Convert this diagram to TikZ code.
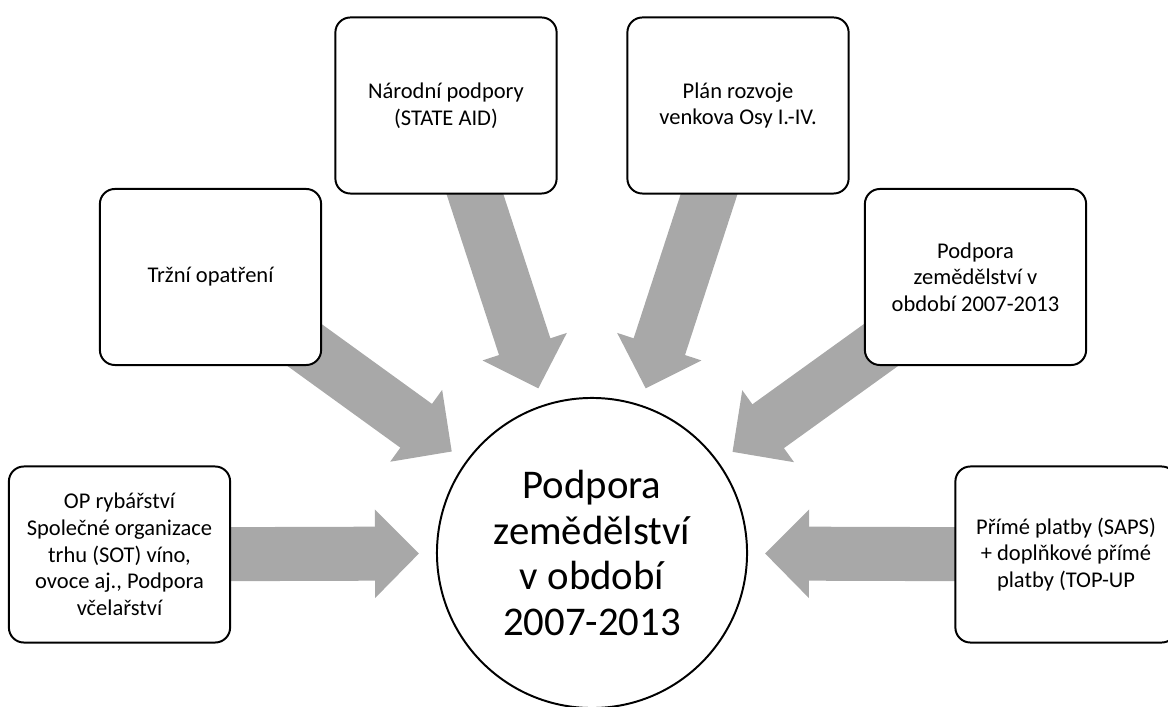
\documentclass[tikz,border=0pt]{standalone}
\usepackage{fontspec}
\setmainfont{Carlito}
\usepackage{tikz}
\usetikzlibrary{arrows.meta,backgrounds}
\definecolor{arrowgray}{RGB}{168,168,168}

\begin{document}
\begin{tikzpicture}[x=0.025cm, y=-0.025cm,
			box/.style={shape=rectangle,draw,fill=white,line width=1.4pt,rounded corners=0.375cm,minimum width=5.53cm,minimum height=4.4cm,align=center,font=\fontsize{16}{19}\selectfont},
			core/.style={shape=circle,draw,fill=white,line width=1.4pt,minimum size=7.75cm,inner sep=0,align=center,font=\fontsize{29}{32.5}\selectfont},
			feed/.style={color=arrowgray,line width=1.35cm,-{Triangle[width=2.15cm,length=1.1cm]},shorten >=0.425cm}]
			\useasboundingbox (0,0) rectangle (1168,707);
			\node[core] (c) at (592,553) {Podpora\\zemědělství\\v období\\2007-2013};
			\node[box] (op) at (119.5,554.5) {OP rybářství\\Společné organizace\\trhu (SOT) víno,\\ovoce aj., Podpora\\včelařství};
			\node[box] (trh) at (210.5,277) {Tržní opatření};
			\node[box] (nar) at (446,105.5) {Národní podpory\\(STATE AID)};
			\node[box] (prv) at (738,105.5) {Plán rozvoje\\venkova Osy I.-IV.};
			\node[box] (pod) at (975.5,277) {Podpora\\zemědělství v\\období 2007-2013};
			\node[box] (pri) at (1066,554.5) {Přímé platby (SAPS)\\+ doplňkové přímé\\platby (TOP-UP};
			\begin{scope}[on background layer]
			\draw[feed] (op.center) to (c); \draw[feed] (trh.center) to (c); \draw[feed] (nar.center) to (c);
			\draw[feed] (prv.center) to (c); \draw[feed] (pod.center) to (c); \draw[feed] (pri.center) to (c);
			\end{scope}
		\end{tikzpicture}
\end{document}
